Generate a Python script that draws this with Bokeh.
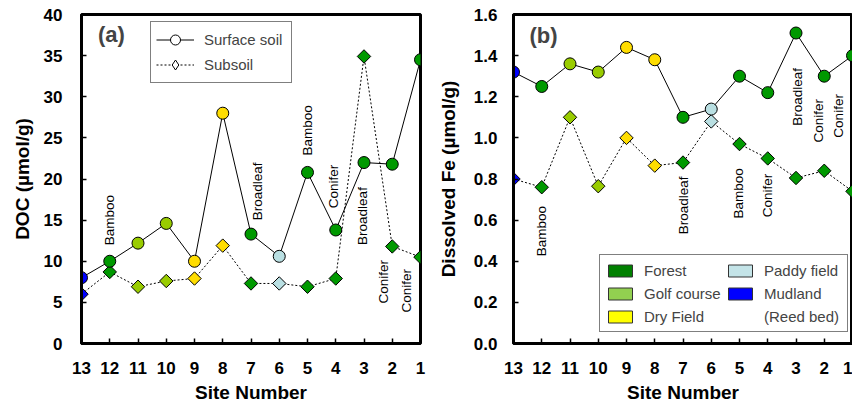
import numpy as np
from bokeh.plotting import figure
from bokeh.models import (Range1d, FixedTicker, NumeralTickFormatter, Legend, LegendItem,
                          ColumnDataSource, Label)
from bokeh.layouts import row
from bokeh.embed import file_html
from bokeh.resources import INLINE
from bokeh.core.properties import value

# ---------------- data ----------------
sites = [13, 12, 11, 10, 9, 8, 7, 6, 5, 4, 3, 2, 1]
land_use = ["Mudland", "Forest", "Golf course", "Golf course", "Dry Field", "Dry Field",
            "Forest", "Paddy field", "Forest", "Forest", "Forest", "Forest", "Forest"]
doc_surface = [8.0, 10.0, 12.2, 14.6, 10.0, 28.0, 13.3, 10.6, 20.8, 13.8, 22.0, 21.8, 34.5]
doc_subsoil = [6.0, 8.7, 6.9, 7.6, 7.9, 11.9, 7.3, 7.3, 6.9, 7.9, 34.9, 11.8, 10.5]
fe_surface = [1.32, 1.25, 1.36, 1.32, 1.44, 1.38, 1.10, 1.14, 1.30, 1.22, 1.51, 1.30, 1.40]
fe_subsoil = [0.80, 0.76, 1.10, 0.765, 1.00, 0.865, 0.88, 1.08, 0.97, 0.90, 0.805, 0.84, 0.74]

doc_ticks = [0, 5, 10, 15, 20, 25, 30, 35, 40]
fe_ticks = [0.0, 0.2, 0.4, 0.6, 0.8, 1.0, 1.2, 1.4, 1.6]

# vegetation notes (text, site position, y position)
notes_a_text = ["Bamboo", "Broadleaf", "Bamboo", "Conifer", "Broadleaf", "Conifer", "Conifer"]
notes_a_x = [12.0, 6.77, 5.0, 4.08, 3.05, 2.3, 1.5]
notes_a_y = [15.0, 18.5, 25.9, 19.1, 15.5, 7.5, 6.4]
notes_b_text = ["Bamboo", "Broadleaf", "Bamboo", "Conifer", "Broadleaf", "Conifer", "Conifer"]
notes_b_x = [12.0, 7.0, 5.02, 4.0, 2.96, 2.22, 1.48]
notes_b_y = [0.546, 0.672, 0.730, 0.720, 1.199, 1.083, 1.107]

legend_classes = ["Forest", "Golf course", "Dry Field", "Paddy field", "Mudland"]
marker_colors = {"Forest": "#009900", "Golf course": "#99cc00", "Dry Field": "#ffdd00",
                 "Paddy field": "#b9dfe2", "Mudland": "#0000ff"}
patch_colors = {"Forest": "#008000", "Golf course": "#92d050", "Dry Field": "#ffff00",
                "Paddy field": "#c4e4e8", "Mudland": "#0000ff"}

FONT = "Liberation Sans"
colors = [marker_colors[u] for u in land_use]
nan = float("nan")


def make_fig(width, ymax, ticks, border_left, border_right, ylabel, fmt, ystandoff,
             ytitle_standoff):
    p = figure(width=width, height=405, x_range=Range1d(13, 1), y_range=Range1d(0, ymax),
               output_backend="svg", toolbar_location=None,
               min_border_left=border_left, min_border_right=border_right,
               min_border_top=14, min_border_bottom=61)
    p.grid.visible = False
    p.background_fill_color = "white"
    p.border_fill_color = "white"
    p.outline_line_color = "black"
    p.outline_line_width = 3
    p.outline_line_alpha = 1
    for ax in (p.xaxis[0], p.yaxis[0]):
        ax.axis_line_width = 3
        ax.major_tick_in = 5
        ax.major_tick_out = 0
        ax.major_tick_line_width = 1.5
        ax.minor_tick_line_color = None
        ax.major_label_text_font = FONT
        ax.major_label_text_font_style = "bold"
        ax.major_label_text_font_size = "17px"
        ax.major_label_text_color = "black"
        ax.axis_label_text_font = FONT
        ax.axis_label_text_font_style = "bold"
        ax.axis_label_text_font_size = "19px"
        ax.axis_label_text_color = "black"
    p.xaxis.ticker = FixedTicker(ticks=sites)
    p.xaxis.major_label_standoff = 18
    p.xaxis.axis_label_standoff = 5
    p.xaxis.axis_label = "Site Number"
    p.yaxis.ticker = FixedTicker(ticks=ticks)
    p.yaxis.formatter = NumeralTickFormatter(format=fmt)
    p.yaxis.major_label_standoff = ystandoff
    p.yaxis.axis_label_standoff = ytitle_standoff
    p.yaxis.axis_label = ylabel
    return p


def draw_series(p, surface, subsoil):
    src = ColumnDataSource(dict(site=sites, surface=surface, subsoil=subsoil, color=colors))
    p.line("site", "subsoil", source=src, line_color="black", line_width=1, line_dash="2 2")
    p.line("site", "surface", source=src, line_color="black", line_width=1)
    p.scatter("site", "subsoil", source=src, marker="square", angle=np.pi / 4, size=9.5,
              fill_color="color", line_color="black", line_width=1)
    p.scatter("site", "surface", source=src, marker="circle", size=12,
              fill_color="color", line_color="black", line_width=1)


def draw_notes(p, xs, ys, texts):
    p.text(x=xs, y=ys, text=texts, angle=np.pi / 2, text_align="center",
           text_baseline="middle", text_font=value(FONT), text_font_size="13.5px",
           text_color="black")


# ---------------- panel (a) ----------------
p1 = make_fig(430, 40, doc_ticks, 81, 10, "DOC (\u00b5mol/g)", "0", 19, 8)
draw_series(p1, doc_surface, doc_subsoil)
draw_notes(p1, notes_a_x, notes_a_y, notes_a_text)
p1.add_layout(Label(x=11.94, y=37.6, text="(a)", text_font=FONT, text_font_style="bold",
                    text_font_size="22px", text_align="center", text_baseline="middle"))

empty = ColumnDataSource(dict(x=[nan], y=[nan]))
l_s = p1.line("x", "y", source=empty, line_color="black", line_width=1)
m_s = p1.scatter("x", "y", source=empty, marker="circle", size=12, fill_color="white",
                 line_color="black")
l_b = p1.line("x", "y", source=empty, line_color="black", line_width=1, line_dash="2 2")
m_b = p1.scatter("x", "y", source=empty, marker="diamond", size=12,
                 fill_color="white", line_color="black")
leg_a = Legend(items=[LegendItem(label="Surface soil", renderers=[l_s, m_s]),
                      LegendItem(label="Subsoil", renderers=[l_b, m_b])],
               location=(69, 260), glyph_width=38, glyph_height=25, label_height=20,
               label_width=82, label_standoff=10, spacing=0, padding=5, margin=0,
               label_text_font=FONT, label_text_font_size="15px",
               border_line_color="black", border_line_width=1, background_fill_alpha=1)
p1.add_layout(leg_a, "center")

# ---------------- panel (b) ----------------
p2 = make_fig(422, 1.6, fe_ticks, 83, 0, "Dissolved Fe (\u00b5mol/g)", "0.0", 16, 12)
draw_series(p2, fe_surface, fe_subsoil)
draw_notes(p2, notes_b_x, notes_b_y, notes_b_text)
p2.add_layout(Label(x=11.94, y=1.496, text="(b)", text_font=FONT, text_font_style="bold",
                    text_font_size="22px", text_align="center", text_baseline="middle"))

empty2 = ColumnDataSource(dict(left=[nan], right=[nan], top=[nan], bottom=[nan]))
items = []
for cls in legend_classes:
    r = p2.quad(left="left", right="right", top="top", bottom="bottom", source=empty2,
                fill_color=patch_colors[cls], line_color="#333333", line_width=1)
    items.append(LegendItem(label=cls, renderers=[r]))
blank = p2.quad(left="left", right="right", top="top", bottom="bottom", source=empty2,
                fill_alpha=0, line_alpha=0)
items.append(LegendItem(label="(Reed bed)", renderers=[blank]))
leg_b = Legend(items=items, location=(86, 11), ncols=2, glyph_width=30, glyph_height=15,
               label_height=20, label_width=78, label_standoff=9, spacing=3, padding=5,
               margin=0, label_text_font=FONT, label_text_font_size="15px",
               border_line_color="black", border_line_width=1, background_fill_alpha=1)
p2.add_layout(leg_b, "center")

layout = row(p1, p2)
open("out.html", "w").write(file_html(layout, INLINE))
